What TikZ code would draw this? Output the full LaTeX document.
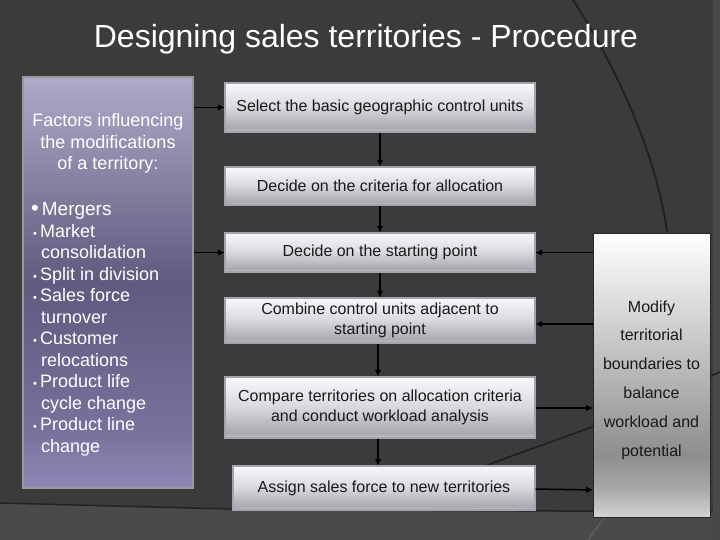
\documentclass[tikz,border=0pt]{standalone}
\usepackage{fontspec}
\setmainfont{Liberation Sans}
\usetikzlibrary{arrows.meta}
\definecolor{bg}{HTML}{3B3B3B}
\definecolor{bglow}{HTML}{4A4A4A}
\definecolor{deco}{HTML}{222222}
\definecolor{lb0}{HTML}{8E88B6}
\definecolor{lb1}{HTML}{77729C}
\definecolor{lb2}{HTML}{5F5A7E}
\definecolor{lb3}{HTML}{AEAAC8}
\definecolor{fb0}{HTML}{C4C6CA}
\definecolor{fb1}{HTML}{A8AAAF}
\definecolor{fb2}{HTML}{DCDCE0}
\definecolor{fb3}{HTML}{F8F8FC}
\definecolor{fborder}{HTML}{A4A4AC}
\definecolor{rb0}{HTML}{D4D4D4}
\definecolor{rb1}{HTML}{A8A8A8}
\definecolor{rb2}{HTML}{8E8E8E}
\definecolor{rb3}{HTML}{FFFFFF}
\pgfdeclareverticalshading{leftbox}{100bp}{color(0bp)=(lb0); color(25bp)=(lb0); color(32bp)=(lb1); color(50bp)=(lb2); color(75bp)=(lb3); color(100bp)=(lb3)}
\pgfdeclareverticalshading{flowbox}{100bp}{color(0bp)=(fb0); color(25bp)=(fb0); color(29bp)=(fb1); color(52bp)=(fb2); color(75bp)=(fb3); color(100bp)=(fb3)}
\pgfdeclareverticalshading{rightbox}{100bp}{color(0bp)=(rb0); color(25bp)=(rb0); color(30bp)=(rb1); color(36bp)=(rb2); color(75bp)=(rb3); color(100bp)=(rb3)}
\newcommand{\smallbul}{{\fontsize{11}{11}\selectfont\textbullet}\,}
\begin{document}
\begin{tikzpicture}[x=1pt,y=-1pt,
  flow/.style={shading=flowbox, draw=fborder, line width=1.4pt, inner sep=0pt,
    font=\fontsize{16}{20}\selectfont, text=black!90, align=center},
  conn/.style={line width=1.5pt, black, -{Triangle[length=6.5pt,width=5.5pt]}},
  ltext/.style={text=white, font=\fontsize{18}{21.5}\selectfont, inner sep=0pt}]
\useasboundingbox (0,0) rectangle (720,540);
% background
\fill[bg] (0,0) rectangle (720,540);
\fill[bglow] (0,503) -- (230,509) -- (720,512) -- (720,540) -- (0,540) -- cycle;
\draw[deco, line width=1.5pt] (0,503) -- (230,509) -- (720,512);
\fill[bglow!90!bg] (713,0) rectangle (720,540);
\draw[deco, line width=2pt] (573,0) .. controls (612,60) and (656,150) .. (667,232);
\draw[black!45!bg, line width=1.6pt] (487,465) -- (592,427) -- (720,372);
\draw[gray!50!bg, line width=1.5pt] (604,518) -- (588,540);
% title
\node[text=white, font=\fontsize{32}{36}\selectfont, anchor=base] (title) at (366,48) {Designing sales territories - Procedure};
% left box
\node[shading=leftbox, draw=gray!80, line width=1.5pt, minimum width=170pt, minimum height=411pt, inner sep=0pt] (L) at (108,282.5) {};
\node[ltext, align=center, anchor=base] (Lh) at (108,170) {Factors influencing\\the modifications\\of a territory:};
\node[ltext, anchor=base west] (m1) at (31,215) {{\fontsize{22}{22}\selectfont\textbullet}\,{\fontsize{19}{19}\selectfont Mergers}};
\node[ltext, align=left, anchor=base west] (m2) at (33,452) {\smallbul Market\\
\hspace*{8pt}consolidation\\
\smallbul Split in division\\
\smallbul Sales force\\
\hspace*{8pt}turnover\\
\smallbul Customer\\
\hspace*{8pt}relocations\\
\smallbul Product life\\
\hspace*{8pt}cycle change\\
\smallbul Product line\\
\hspace*{8pt}change};
% flow boxes
\node[flow, minimum width=310pt, minimum height=49pt] (b1) at (380,107.5) {Select the basic geographic control units};
\node[flow, minimum width=310pt, minimum height=38pt] (b2) at (380,186) {Decide on the criteria for allocation};
\node[flow, minimum width=310pt, minimum height=39pt] (b3) at (380,252.5) {Decide on the starting point};
\node[flow, minimum width=310pt, minimum height=45pt] (b4) at (380,320.5) {Combine control units adjacent to\\starting point};
\node[flow, minimum width=310pt, minimum height=61pt] (b5) at (380,407.5) {Compare territories on allocation criteria\\and conduct workload analysis};
\node[flow, minimum width=302pt, minimum height=44pt] (b6) at (384,488) {Assign sales force to new territories};
% right box
\node[shading=rightbox, draw=black!85, line width=1pt, minimum width=117pt, minimum height=284pt, inner sep=0pt] (R) at (651.5,375) {};
\node[font=\fontsize{16}{28.8}\selectfont, align=center, text=black!90, inner sep=0pt] (Rt) at (651.5,380) {Modify\\territorial\\boundaries to\\balance\\workload and\\potential};
% connectors
\draw[conn] (L.east |- b1.west) -- (b1.west);
\draw[conn] (L.east |- b3.west) -- (b3.west);
\draw[conn] (b1.south) -- (b2.north);
\draw[conn] (b2.south) -- (b3.north);
\draw[conn] (b3.south) -- (b4.north);
\draw[conn] ([xshift=-2pt]b4.south) -- ([xshift=-2pt]b5.north);
\draw[conn] ([xshift=-2pt]b5.south) -- ([xshift=-2pt]b5.south |- b6.north);
\draw[conn] (R.west |- b3.east) -- (b3.east);
\draw[conn] (R.west |- 0,324) -- (b4.east |- 0,324);
\draw[conn] (b5.east |- 0,408) -- (R.west |- 0,408);
\draw[conn] (b6.east |- 0,489) -- (R.west |- 0,490);
\end{tikzpicture}
\end{document}
